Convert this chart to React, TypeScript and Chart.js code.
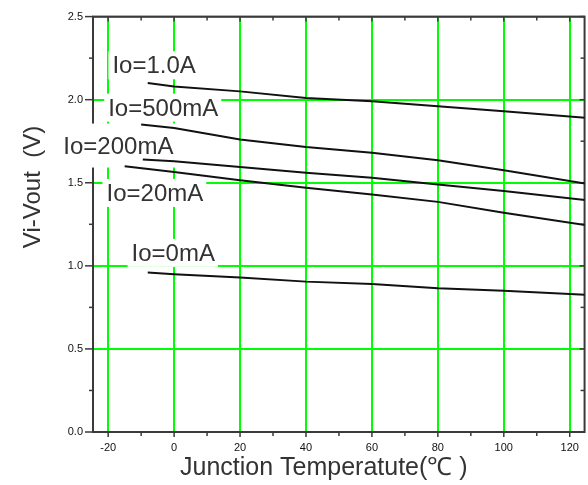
import React, { useEffect, useRef } from "react";
import { Chart, registerables } from "chart.js";

Chart.register(...registerables);

// Axis ticks
const xTickValues = [-20, 0, 20, 40, 60, 80, 100, 120];
const yTickValues = [0, 0.5, 1.0, 1.5, 2.0, 2.5];

// Series (Junction temperature °C -> Vi-Vout V)
const temp1A = [-8, 0, 20, 40, 60, 80, 100, 125];
const volt1A = [2.10, 2.08, 2.05, 2.01, 1.99, 1.96, 1.93, 1.89];
const temp500mA = [-10, 0, 20, 40, 60, 80, 100, 125];
const volt500mA = [1.85, 1.83, 1.76, 1.715, 1.68, 1.635, 1.575, 1.495];
const temp200mA = [-9.5, 0, 20, 40, 60, 80, 100, 125];
const volt200mA = [1.64, 1.63, 1.595, 1.56, 1.53, 1.49, 1.45, 1.395];
const temp20mA = [-15, 0, 20, 40, 60, 80, 100, 125];
const volt20mA = [1.60, 1.565, 1.515, 1.47, 1.43, 1.385, 1.32, 1.245];
const temp0mA = [-8, 0, 20, 40, 60, 80, 100, 125];
const volt0mA = [0.96, 0.95, 0.93, 0.905, 0.89, 0.865, 0.85, 0.825];

// In-plot series labels and their anchors (data coords)
const seriesNames = ["Io=1.0A", "Io=500mA", "Io=200mA", "Io=20mA", "Io=0mA"];
const labelTemps = [-18.7, -20, -33.6, -20.5, -12.9];
const labelVolts = [2.21, 1.955, 1.727, 1.442, 1.081];

const xTitle = "Junction Temperatute(\u2103 )";
const yTitle = "Vi-Vout  (V)";

const FONT = '"Liberation Sans", Arial, sans-serif';

const toPoints = (xs: number[], ys: number[]) => xs.map((x, i) => ({ x, y: ys[i] }));

const decorPlugin = {
  id: "decor",
  beforeDatasetsDraw(chart: any) {
    const { ctx, chartArea: a, scales } = chart;
    const x = scales.x;
    const y = scales.y;
    ctx.save();
    const seg = (x1: number, y1: number, x2: number, y2: number) => {
      ctx.beginPath();
      ctx.moveTo(x1, y1);
      ctx.lineTo(x2, y2);
      ctx.stroke();
    };
    // frame
    ctx.strokeStyle = "#3a3a3a";
    ctx.lineWidth = 2;
    ctx.strokeRect(a.left, a.top, a.right - a.left, a.bottom - a.top);
    // tick marks
    ctx.lineWidth = 1.5;
    for (let v = -20; v <= 120; v += 10) {
      const px = x.getPixelForValue(v);
      const major = v % 20 === 0;
      seg(px, a.bottom, px, a.bottom + (major ? 5 : 4));
      seg(px, a.top, px, a.top + (major ? 5 : 4));
    }
    for (let k = 0; k <= 10; k++) {
      const v = k * 0.25;
      const py = y.getPixelForValue(v);
      const major = k % 2 === 0;
      seg(a.left - (major ? 8 : 4), py, a.left, py);
      seg(a.right - (major ? 5 : 4), py, a.right, py);
    }
    // series labels with white boxes
    ctx.font = "24px " + FONT;
    ctx.textAlign = "left";
    ctx.textBaseline = "alphabetic";
    const capH = 17;
    seriesNames.forEach((name, i) => {
      const px = x.getPixelForValue(labelTemps[i]);
      const py = y.getPixelForValue(labelVolts[i]);
      const w = ctx.measureText(name).width;
      const base = py + capH / 2;
      const extra = px < a.left ? 8 : 0;
      ctx.fillStyle = "#ffffff";
      ctx.fillRect(px - 4, base - capH - 5 - extra, w + 7, capH + 11 + extra * 2);
      ctx.fillStyle = "#333333";
      ctx.fillText(name, px, base);
    });
    ctx.restore();
  },
  afterDraw(chart: any) {
    const { ctx } = chart;
    ctx.save();
    ctx.fillStyle = "#333333";
    ctx.font = "25px " + FONT;
    ctx.textAlign = "left";
    ctx.textBaseline = "alphabetic";
    ctx.fillText(xTitle, 180, 475);
    ctx.translate(40, 187);
    ctx.rotate(-Math.PI / 2);
    ctx.textAlign = "center";
    ctx.font = "24px " + FONT;
    ctx.fillText(yTitle, 0, 0);
    ctx.restore();
  },
};

export default function App() {
  const ref = useRef<HTMLCanvasElement | null>(null);
  useEffect(() => {
    if (!ref.current) return;
    const line = (xs: number[], ys: number[], label: string) => ({
      label,
      data: toPoints(xs, ys),
      showLine: true,
      borderColor: "#111111",
      backgroundColor: "#111111",
      borderWidth: 2,
      pointRadius: 0,
      tension: 0,
    });
    const chart = new Chart(ref.current, {
      type: "scatter",
      data: {
        datasets: [
          line(temp1A, volt1A, seriesNames[0]),
          line(temp500mA, volt500mA, seriesNames[1]),
          line(temp200mA, volt200mA, seriesNames[2]),
          line(temp20mA, volt20mA, seriesNames[3]),
          line(temp0mA, volt0mA, seriesNames[4]),
        ],
      },
      options: {
        animation: false,
        responsive: false,
        layout: { padding: { left: 0, right: 3, top: 15, bottom: 0 } },
        plugins: {
          legend: { display: false },
          tooltip: { enabled: false },
          title: { display: false },
        },
        scales: {
          x: {
            type: "linear",
            min: -24.6,
            max: 124.5,
            afterBuildTicks: (s: any) => {
              s.ticks = xTickValues.map((v) => ({ value: v }));
            },
            afterFit: (s: any) => {
              s.height = 53;
            },
            grid: { color: "#00ff00", lineWidth: 2, drawTicks: false },
            border: { display: false },
            ticks: {
              padding: 9,
              color: "#111111",
              font: { family: FONT, size: 11 },
              callback: (v: any) => String(v),
            },
          },
          y: {
            type: "linear",
            min: 0,
            max: 2.5,
            afterBuildTicks: (s: any) => {
              s.ticks = yTickValues.map((v) => ({ value: v }));
            },
            afterFit: (s: any) => {
              s.width = 93;
            },
            grid: { color: "#00ff00", lineWidth: 2, drawTicks: false },
            border: { display: false },
            ticks: {
              padding: 10,
              color: "#111111",
              font: { family: FONT, size: 11 },
              callback: (v: any) => Number(v).toFixed(1),
            },
          },
        },
      },
      plugins: [decorPlugin],
    });
    return () => chart.destroy();
  }, []);
  return (
    <div style={{ position: "absolute", left: 0, top: 0, width: 588, height: 485, background: "#fff" }}>
      <canvas ref={ref} width={588} height={485} style={{ display: "block" }} />
    </div>
  );
}
